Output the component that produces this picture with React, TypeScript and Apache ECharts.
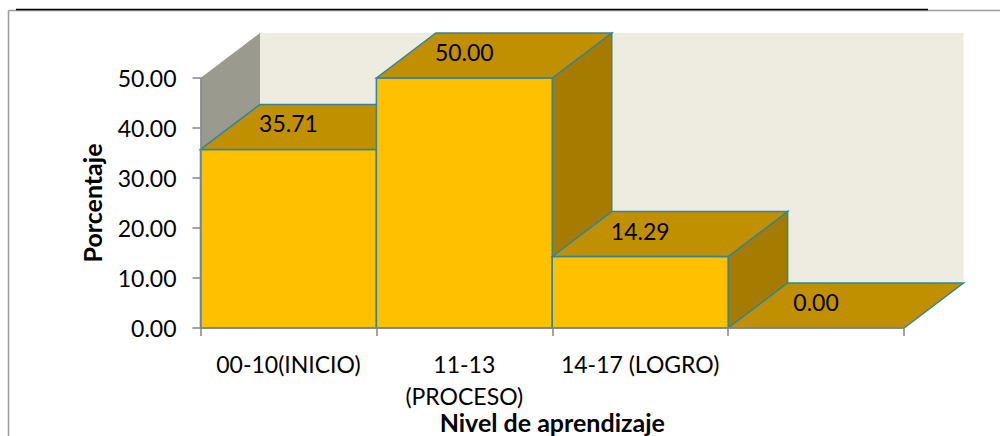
import React, { useEffect, useRef } from "react";
import * as echarts from "echarts";

const categories = ["00-10(INICIO)", "11-13\n(PROCESO)", "14-17 (LOGRO)", ""];
const values = [35.71, 50.0, 14.29, 0.0];
const yTicks = { min: 0, max: 50, interval: 10 };
const axisTitleX = "Nivel de aprendizaje";
const axisTitleY = "Porcentaje";

const DX = 59.5;
const DY = -45;
const FONT = "Lato, Carlito, 'Open Sans', sans-serif";
const EDGE = "#31859c";
const FRONT = "#ffc000";
const TOP = "#c09000";
const SIDE = "#a67c00";
const BACK = "#eeece1";
const WALL = "#9a9a8f";
const AXIS = "#868686";

function poly(points: number[][], fill: string, stroke?: string) {
  return {
    type: "polygon",
    shape: { points },
    style: { fill, stroke: stroke || "none", lineWidth: stroke ? 1.5 : 0 },
  };
}

function renderWalls(params: any) {
  const c = params.coordSys;
  const l = c.x, r = c.x + c.width, t = c.y, b = c.y + c.height;
  return {
    type: "group",
    children: [
      poly([[l + DX, t + DY], [r + DX, t + DY], [r + DX, b + DY], [l + DX, b + DY]], BACK),
      poly([[l, t], [l + DX, t + DY], [l + DX, b + DY], [l, b]], WALL),
    ],
  };
}

function renderBar(_params: any, api: any) {
  const i = api.value(0);
  const v = api.value(1);
  const [cx, yTop] = api.coord([i, v]);
  const [, yBase] = api.coord([i, 0]);
  const w = api.size([1, 0])[0];
  const l = cx - w / 2, r = cx + w / 2;
  const children: any[] = [];
  if (v > 0) {
    children.push(
      poly([[r, yTop], [r + DX, yTop + DY], [r + DX, yBase + DY], [r, yBase]], SIDE, EDGE),
      poly([[l, yBase], [r, yBase], [r, yTop], [l, yTop]], FRONT, EDGE),
    );
  }
  children.push(
    poly([[l, yTop], [l + DX, yTop + DY], [r + DX, yTop + DY], [r, yTop]], TOP, EDGE),
    {
      type: "text",
      x: cx,
      y: yTop - 26,
      style: {
        text: v.toFixed(2),
        fill: "#000",
        font: `23px ${FONT}`,
        align: "center",
        verticalAlign: "middle",
      },
    },
  );
  return { type: "group", children };
}

export default function App() {
  const ref = useRef<HTMLDivElement>(null);
  useEffect(() => {
    const chart = echarts.init(ref.current!, undefined, { renderer: "svg" });
    chart.setOption({
      animation: false,
      backgroundColor: "#fff",
      grid: { left: 200.5, right: 96, top: 78, bottom: 108, containLabel: false, outerBoundsMode: "none" },
      graphic: [
        { type: "line", shape: { x1: 8.5, y1: 10.5, x2: 8.5, y2: 436 }, style: { stroke: "#9a9a9a", lineWidth: 1.5 } },
        { type: "line", shape: { x1: 8.5, y1: 10.5, x2: 1000, y2: 10.5 }, style: { stroke: "#9a9a9a", lineWidth: 1.5 } },
        { type: "line", shape: { x1: 16, y1: 9.5, x2: 928, y2: 9.5 }, style: { stroke: "#000", lineWidth: 1.5 } },
      ],
      xAxis: {
        type: "category",
        data: categories,
        z: 3,
        name: axisTitleX,
        nameLocation: "middle",
        nameGap: 81,
        nameMoveOverlap: false,
        nameTextStyle: { fontFamily: FONT, fontSize: 25, fontWeight: "bold", color: "#000" },
        axisLine: { lineStyle: { color: AXIS, width: 1.5 } },
        axisTick: { show: true, length: 8, lineStyle: { color: AXIS, width: 1.5 } },
        axisLabel: { interval: 0, color: "#000", fontFamily: FONT, fontSize: 23, margin: 20, lineHeight: 32 },
      },
      yAxis: {
        type: "value",
        ...yTicks,
        z: 3,
        name: axisTitleY,
        nameLocation: "middle",
        nameGap: 96,
        nameMoveOverlap: false,
        nameTextStyle: { fontFamily: FONT, fontSize: 25, fontWeight: "bold", color: "#000" },
        splitLine: { show: false },
        axisLine: { show: true, lineStyle: { color: AXIS, width: 1.5 } },
        axisTick: { show: true, length: 8, lineStyle: { color: AXIS, width: 1.5 } },
        axisLabel: { color: "#000", fontFamily: FONT, fontSize: 23, margin: 24, formatter: (v: number) => v.toFixed(2) },
      },
      series: [
        { type: "custom", clip: false, z: 1, data: [[0, 0]], renderItem: renderWalls, silent: true },
        {
          type: "custom",
          clip: false,
          z: 2,
          data: values.map((v, i) => [i, v]),
          encode: { x: 0, y: 1 },
          renderItem: renderBar,
        },
      ],
    });
    return () => chart.dispose();
  }, []);
  return <div ref={ref} style={{ position: "fixed", left: 0, top: 0, width: 1000, height: 436 }} />;
}
